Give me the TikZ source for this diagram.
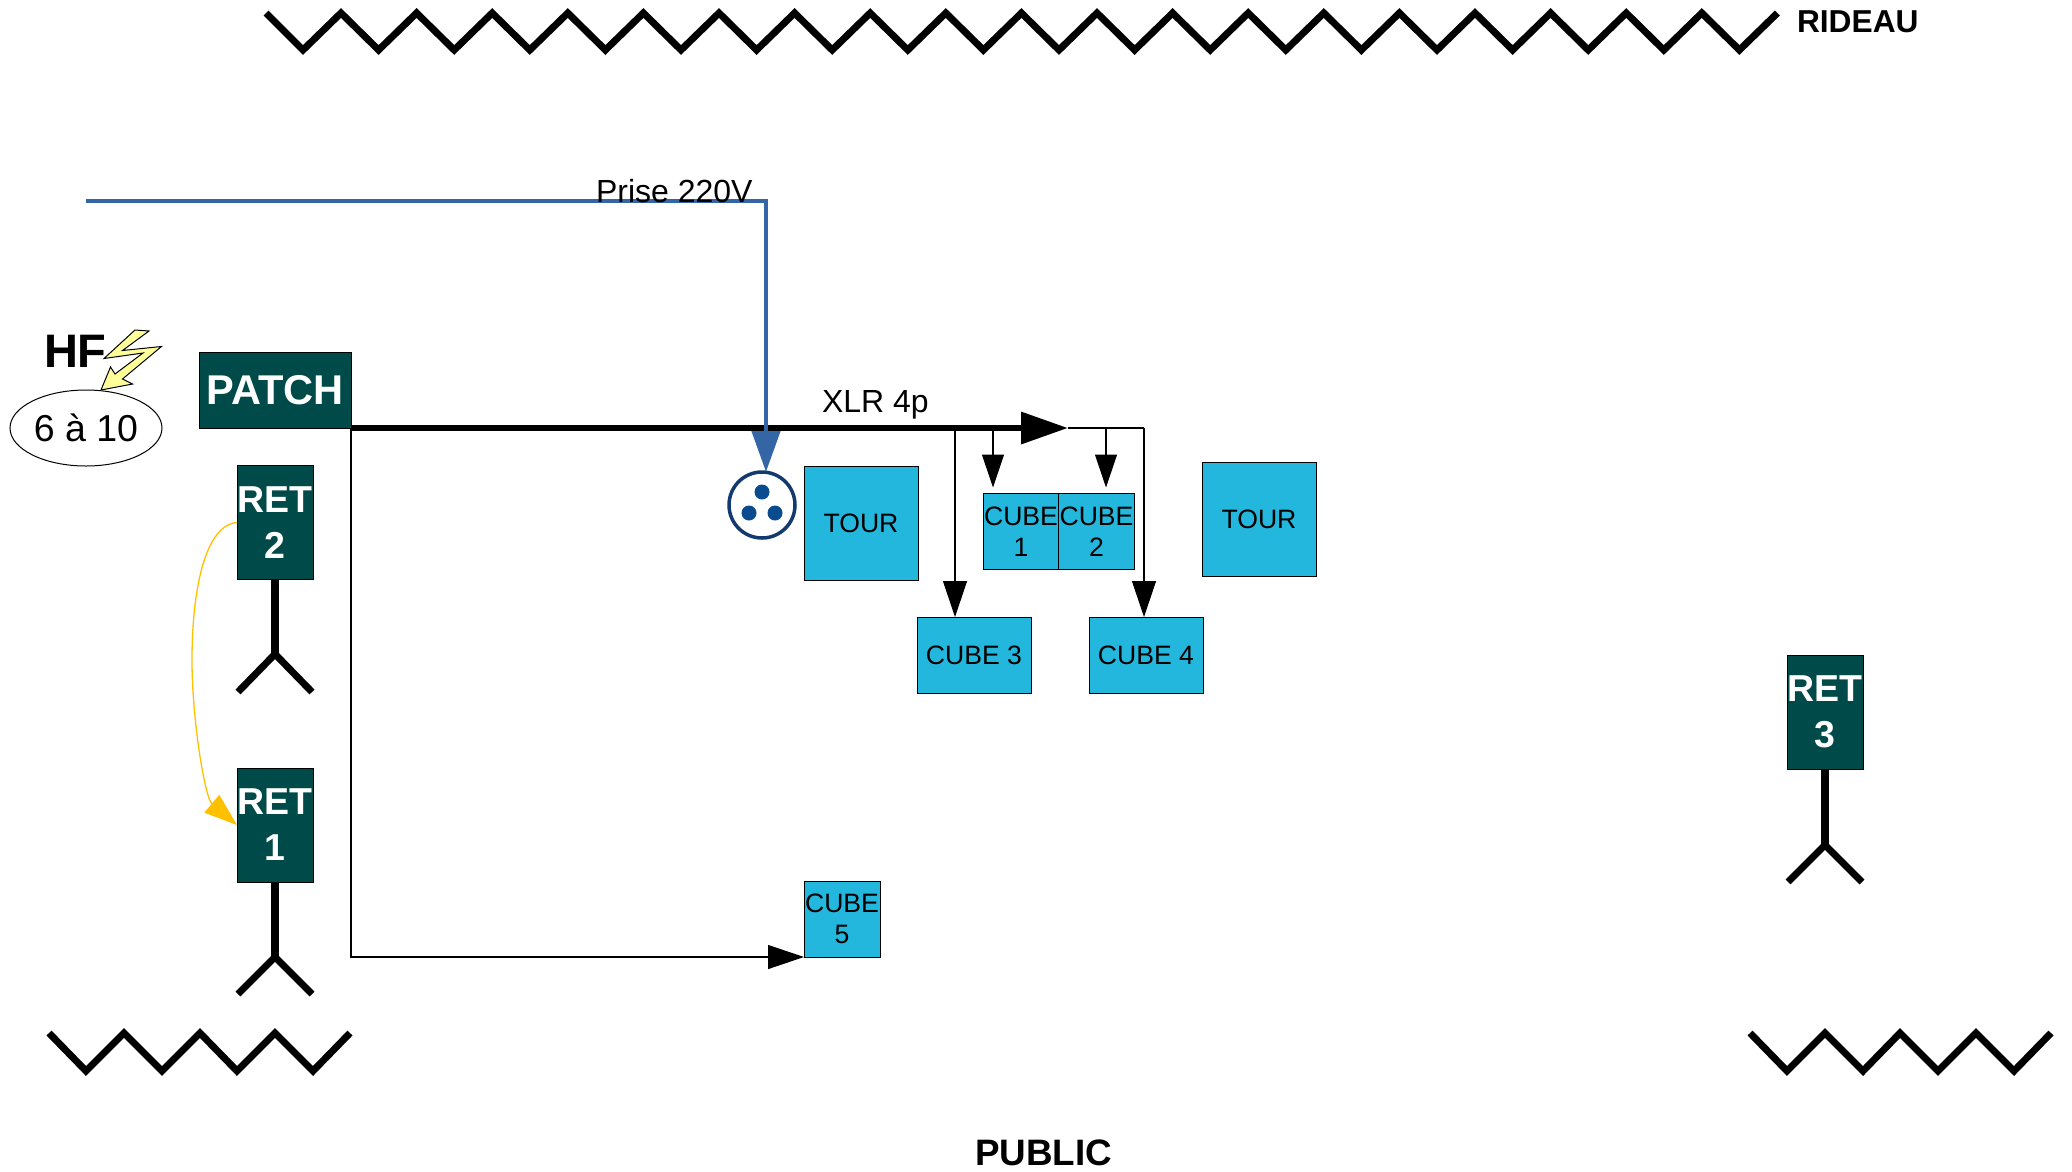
\documentclass[tikz,border=0pt]{standalone}
\usepackage{fontspec}
\setmainfont{Liberation Sans}
\usetikzlibrary{arrows.meta,shapes.geometric}
\definecolor{retfill}{HTML}{004B4A}
\definecolor{cubefill}{HTML}{24B7DD}
\definecolor{plugblue}{HTML}{3465A4}
\definecolor{orangeline}{HTML}{FFC000}
\definecolor{boltfill}{HTML}{FFFF99}
\definecolor{socketring}{HTML}{123A6E}
\definecolor{socketdot}{HTML}{0A4A8E}
\tikzset{
  box/.style={draw=black,line width=0.9pt,inner sep=0pt,outer sep=0pt,align=center},
  retbox/.style={box,fill=retfill,text=white,font=\fontsize{37.5}{46}\selectfont\bfseries,minimum width=76pt,minimum height=114pt},
  patchbox/.style={box,fill=retfill,text=white,font=\fontsize{41.6}{47}\selectfont\bfseries,minimum width=152pt,minimum height=76pt},
  cubebox/.style={box,fill=cubefill,text=black,font=\fontsize{26.6}{31}\selectfont,minimum width=76pt,minimum height=76pt},
  widebox/.style={cubebox,minimum width=114pt},
  towerbox/.style={cubebox,minimum width=114pt,minimum height=114pt},
  zig/.style={line width=7pt,line cap=butt,line join=miter},
  mast/.style={line width=7.5pt},
  arm/.style={line width=7pt},
  thinline/.style={line width=1.2pt,black},
  bighead/.style={-{Triangle[length=36pt,width=24pt]}},
  smallhead/.style={-{Triangle[length=33pt,width=22pt]},shorten >=6pt},
  tag/.style={inner sep=0pt,outer sep=0pt,anchor=base west}
}
\begin{document}
\begin{tikzpicture}[x=1pt,y=-1pt]
\useasboundingbox (0,0) rectangle (2072,1171);

% curtains
\draw[zig] (266,13) \foreach \k in {0,...,19} { -- ({303+75.6*\k},50) -- ({341+75.6*\k},13) };
\draw[zig] (49,1033) -- (86,1071) -- (124,1033) -- (162,1071) -- (200,1033) -- (237,1071) -- (275,1033) -- (313,1071) -- (350,1033);
\draw[zig] (1750,1033) -- (1787,1071) -- (1825,1033) -- (1863,1071) -- (1900,1033) -- (1938,1071) -- (1976,1033) -- (2014,1071) -- (2051,1033);
\node[tag,font=\fontsize{31.7}{36}\selectfont\bfseries] (rideau) at (1797,32) {RIDEAU};
\node[tag,font=\fontsize{36.8}{40}\selectfont\bfseries] (public) at (975,1165) {PUBLIC};

% boxes
\node[patchbox] (patch) at (275,390) {PATCH};
\node[retbox] (ret2) at (275,522.5) {RET\\2};
\node[retbox] (ret1) at (275,825) {RET\\1};
\node[retbox] (ret3) at (1825,712) {RET\\3};
\node[towerbox] (tour1) at (861,523) {TOUR};
\node[towerbox] (tour2) at (1259,519) {TOUR};
\node[cubebox] (cube1) at (1021,531.5) {CUBE\\1};
\node[cubebox] (cube2) at (1096.5,531.5) {CUBE\\2};
\node[widebox] (cube3) at (974,655) {CUBE 3};
\node[widebox] (cube4) at (1146,655) {CUBE 4};
\node[cubebox] (cube5) at (842,919) {CUBE\\5};

% antennas
\coordinate (fork2) at (275,654);
\coordinate (fork1) at (275,957);
\coordinate (fork3) at (1825,845);
\coordinate (fork2l) at (238,692);
\coordinate (fork2r) at (312,692);
\coordinate (fork1l) at (238,994);
\coordinate (fork1r) at (312,994);
\coordinate (fork3l) at (1788,882);
\coordinate (fork3r) at (1862,882);
\draw[mast] (ret2.south) -- (fork2);
\draw[mast] (ret1.south) -- (fork1);
\draw[mast] (ret3.south) -- (fork3);
\draw[arm] (fork2l) -- (fork2) -- (fork2r);
\draw[arm] (fork1l) -- (fork1) -- (fork1r);
\draw[arm] (fork3l) -- (fork3) -- (fork3r);

% HF group
\node[draw=black,line width=1pt,ellipse,minimum width=152pt,minimum height=76pt,inner sep=0pt,outer sep=0pt,font=\fontsize{37.5}{40}\selectfont] (hf) at (86,428) {6 à 10};
\node[tag,font=\fontsize{47}{50}\selectfont\bfseries] (hflabel) at (44,367) {HF};
\draw[fill=boltfill,line width=1pt,line join=miter]
  (135,330) -- (149,331) -- (122.5,350.5) -- (161.5,346.5) -- (122.5,379) -- (132.5,384) -- (101,390) -- (110.5,367) -- (115,374) -- (143,353) -- (104,358.5) -- cycle;

% power line and socket
\node[circle,draw=socketring,line width=3.5pt,fill=white,minimum size=66pt,inner sep=0pt,outer sep=0pt] (socket) at (762,505) {};
\fill[socketdot] (762,492) circle (7.5pt) (749,513) circle (7.5pt) (775,513) circle (7.5pt);

% XLR main
\coordinate (xlrend) at (1068,428);
\coordinate (br3) at (955,428);
\coordinate (br1) at (993,428);
\coordinate (br2) at (1106,428);
\coordinate (corner4) at (1144,428);
\coordinate (corner5) at (351,957);
\draw[line width=6.5pt,-{Triangle[length=47pt,width=31pt]}] (patch.south east) -- (xlrend);
\draw[thinline] (xlrend) -- (corner4);
\draw[thinline,bighead] (corner4) -- (corner4 |- cube4.north);
\draw[thinline,bighead] (br3) -- (br3 |- cube3.north);
\draw[thinline,smallhead] (br1) -- (br1 |- cube1.north);
\draw[thinline,smallhead] (br2) -- (br2 |- cube2.north);
\draw[thinline,bighead] (patch.south east) -- (corner5) -- (cube5.south west);

% power arrow
\coordinate (mains) at (86,201);
\coordinate (maincorner) at (766,201);
\draw[plugblue,line width=4.5pt,-{Triangle[length=41pt,width=28pt]}] (mains) -- (maincorner) -- (maincorner |- socket.north);

% return link
\draw[orangeline,line width=1.3pt,-{Triangle[length=33pt,width=23pt]}] (ret2.west) .. controls (205,525) and (192,590) .. (192,660) .. controls (192,720) and (205,798) .. (ret1.west);

% labels
\node[tag,font=\fontsize{32}{36}\selectfont] (prise) at (596,202) {Prise 220V};
\node[tag,font=\fontsize{32}{36}\selectfont] (xlr) at (822,412) {XLR 4p};
\end{tikzpicture}
\end{document}
